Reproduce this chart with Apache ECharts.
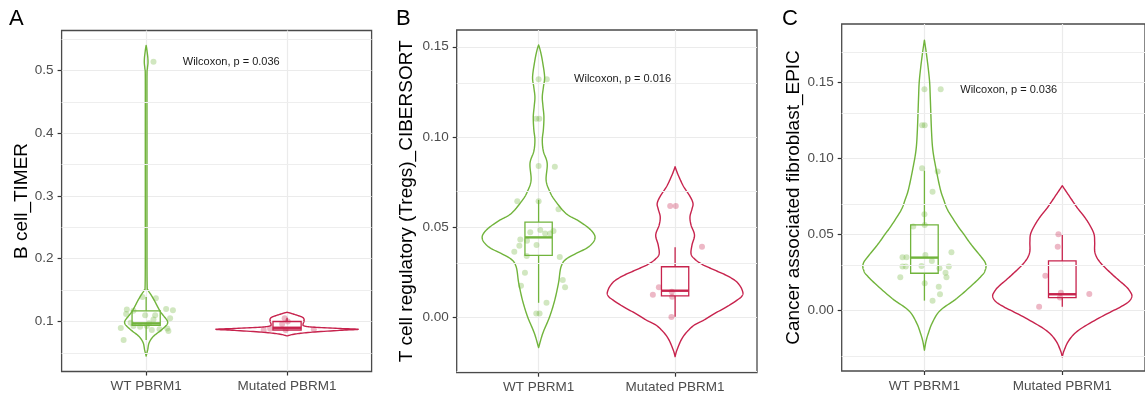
<!DOCTYPE html>
<html>
<head>
<meta charset="utf-8">
<script src="https://cdn.jsdelivr.net/npm/echarts@6/dist/echarts.min.js"></script>
<style>
  html, body { margin: 0; padding: 0; background: #fff; }
  #chart { width: 1145px; height: 396px; }
</style>
</head>
<body>
<div id="chart"></div>
<script>
// ---- shared labels ----
const categories = ['WT PBRM1', 'Mutated PBRM1'];
const panelLetters = ['A', 'B', 'C'];
const yTitles = ['B cell_TIMER', 'T cell regulatory (Tregs)_CIBERSORT', 'Cancer associated fibroblast_EPIC'];
const pLabels = ['Wilcoxon, p = 0.036', 'Wilcoxon, p = 0.016', 'Wilcoxon, p = 0.036'];

// ---- tick values per panel ----
const yTicksA = [0.1, 0.2, 0.3, 0.4, 0.5];
const yMinorA = [0.05, 0.15, 0.25, 0.35, 0.45, 0.55];
const yTicksB = [0.00, 0.05, 0.10, 0.15];
const yMinorB = [-0.025, 0.025, 0.075, 0.125];
const yTicksC = [0.00, 0.05, 0.10, 0.15];
const yMinorC = [-0.025, 0.025, 0.075, 0.125, 0.175];

// ---- violin outlines: [value, half width in category units] ----
const violinA_WT = [[0.045,0],[0.055,0.011],[0.066,0.021],[0.076,0.05],[0.085,0.10],[0.092,0.135],[0.097,0.152],[0.102,0.148],[0.110,0.12],[0.116,0.10],[0.125,0.078],[0.134,0.057],[0.142,0.036],[0.150,0.014],[0.160,0.007],[0.25,0.006],[0.40,0.006],[0.49,0.006],[0.503,0.009],[0.512,0.013],[0.52,0.012],[0.528,0.008],[0.535,0.004],[0.54,0]];
const violinA_Mut = [[0.077,0],[0.080,0.057],[0.083,0.18],[0.086,0.39],[0.0876,0.505],[0.089,0.36],[0.091,0.18],[0.093,0.12],[0.096,0.114],[0.100,0.12],[0.104,0.12],[0.107,0.107],[0.110,0.07],[0.113,0.028],[0.1147,0]];
const violinB_WT = [[-0.017,0],[-0.009,0.031],[0.000,0.08],[0.009,0.117],[0.019,0.146],[0.028,0.165],[0.0326,0.21],[0.038,0.347],[0.041,0.395],[0.0437,0.413],[0.0462,0.405],[0.0495,0.365],[0.0535,0.29],[0.0575,0.2],[0.065,0.117],[0.070,0.08],[0.076,0.055],[0.0853,0.063],[0.092,0.035],[0.0982,0.027],[0.104,0.035],[0.111,0.039],[0.117,0.032],[0.1222,0.027],[0.128,0.036],[0.1334,0.044],[0.1426,0.027],[0.148,0.012],[0.151,0]];
const violinB_Mut = [[-0.022,0],[-0.018,0.015],[-0.011,0.058],[-0.005,0.131],[-0.002,0.204],[0.002,0.291],[0.006,0.386],[0.010,0.466],[0.0115,0.488],[0.013,0.497],[0.0148,0.492],[0.017,0.478],[0.020,0.444],[0.023,0.379],[0.026,0.291],[0.029,0.204],[0.032,0.146],[0.035,0.117],[0.040,0.124],[0.0455,0.142],[0.051,0.117],[0.0556,0.109],[0.060,0.124],[0.0631,0.131],[0.067,0.109],[0.0723,0.063],[0.0777,0.029],[0.081,0.011],[0.0834,0]];
const violinC_WT = [[-0.026,0],[-0.02,0.012],[-0.015,0.028],[-0.008,0.057],[0.000,0.113],[0.008,0.234],[0.018,0.36],[0.024,0.425],[0.0265,0.44],[0.029,0.447],[0.0318,0.44],[0.035,0.415],[0.044,0.335],[0.051,0.28],[0.0553,0.245],[0.066,0.17],[0.073,0.14],[0.080,0.115],[0.093,0.085],[0.105,0.062],[0.117,0.052],[0.139,0.043],[0.150,0.038],[0.160,0.027],[0.170,0.013],[0.178,0]];
const violinC_Mut = [[-0.0303,0],[-0.026,0.014],[-0.0193,0.05],[-0.0127,0.121],[-0.004,0.284],[0.0026,0.426],[0.0062,0.485],[0.0097,0.505],[0.0128,0.49],[0.0161,0.46],[0.0224,0.38],[0.0312,0.28],[0.0378,0.238],[0.045,0.235],[0.0504,0.23],[0.0562,0.2],[0.0618,0.16],[0.0675,0.11],[0.0728,0.07],[0.0775,0.035],[0.0822,0]];

// ---- box statistics: [lower whisker, Q1, median, Q3, upper whisker] ----
const boxA_WT = [0.0705, 0.094, 0.097, 0.117, 0.139];
const boxA_Mut = [0.0855, 0.0864, 0.090, 0.100, 0.106];
const boxB_WT = [0.0079, 0.0342, 0.0442, 0.0527, 0.065];
const boxB_Mut = [0.0002, 0.0117, 0.0146, 0.0279, 0.0387];
const boxC_WT = [0.0066, 0.0246, 0.0349, 0.0564, 0.0921];
const boxC_Mut = [0.0026, 0.0086, 0.0108, 0.0327, 0.0498];

// ---- samples: [jitter offset from category, value] ----
const pointsA_WT = [[0.052,0.514],[-0.026,0.139],[0.069,0.137],[-0.137,0.119],[-0.09,0.117],[-0.142,0.112],[0.142,0.120],[0.19,0.118],[0.17,0.105],[-0.007,0.110],[0.064,0.110],[0.052,0.103],[-0.18,0.0896],[-0.09,0.093],[-0.043,0.0917],[0.005,0.093],[0.04,0.0865],[0.095,0.0876],[0.15,0.089],[0.158,0.085],[-0.16,0.0705],[-0.11,0.098],[0.02,0.097]];
const pointsA_Mut = [[-0.166,0.0865],[-0.12,0.0885],[-0.017,0.105],[0.005,0.1],[-0.035,0.096],[0.19,0.0876],[-0.01,0.0865]];
const pointsB_WT = [[0,0.132],[0.06,0.132],[-0.017,0.110],[0.005,0.110],[0,0.0838],[0.119,0.0834],[-0.156,0.0642],[0,0.0642],[0.146,0.0598],[0.109,0.0477],[0.012,0.0483],[0.048,0.0464],[0.085,0.0464],[-0.061,0.047],[-0.134,0.043],[-0.085,0.0423],[-0.015,0.040],[-0.141,0.0396],[-0.178,0.0362],[-0.087,0.0339],[0.155,0.0333],[-0.1,0.0246],[0.177,0.0205],[0.194,0.0165],[-0.129,0.0174],[0.058,0.0079],[-0.017,0.002],[0.007,0.002]];
const pointsB_Mut = [[-0.036,0.0616],[0.005,0.0616],[0.197,0.039],[-0.119,0.0165],[-0.163,0.0124],[-0.024,0.014],[-0.022,0.0113],[-0.027,0.0]];
const pointsC_WT = [[0,0.1457],[0.118,0.1457],[-0.017,0.122],[0.002,0.122],[-0.017,0.0937],[0.096,0.0915],[0.059,0.0783],[0,0.0634],[-0.081,0.0553],[0.002,0.0564],[-0.13,0.0351],[-0.159,0.0351],[0.007,0.0366],[0.196,0.0384],[-0.159,0.029],[-0.135,0.029],[-0.021,0.0294],[0.054,0.0327],[0.109,0.0279],[0.177,0.029],[-0.175,0.022],[0.153,0.025],[0.16,0.022],[0.002,0.018],[0.104,0.0158],[0.113,0.0108],[0.059,0.0066]];
const pointsC_Mut = [[-0.028,0.0503],[-0.033,0.0421],[-0.123,0.023],[-0.168,0.0026],[-0.017,0.0086],[0.196,0.011],[-0.01,0.0118]];

// ---- styling ----
const GREEN = '#71b43c';
const RED = '#c7234d';
const FONT = '"Liberation Sans", Arial, sans-serif';

const panels = [
  { grid: { left: 61.6, right: 773.4, top: 30.5, bottom: 24.5 }, yMin: 0.0203, yMax: 0.5637, ticks: yTicksA, minor: yMinorA, digits: 1, nameGap: 30.5,
    violins: [violinA_WT, violinA_Mut], boxes: [boxA_WT, boxA_Mut], points: [pointsA_WT, pointsA_Mut], pY: 0.514, letterX: 9 },
  { grid: { left: 456.7, right: 388, top: 30, bottom: 23.3 }, yMin: -0.0309, yMax: 0.1593, ticks: yTicksB, minor: yMinorB, digits: 2, nameGap: 40.5,
    violins: [violinB_WT, violinB_Mut], boxes: [boxB_WT, boxB_Mut], points: [pointsB_WT, pointsB_Mut], pY: 0.132, letterX: 396 },
  { grid: { left: 841.7, right: -5.7, top: 24, bottom: 25 }, yMin: -0.0397, yMax: 0.1886, ticks: yTicksC, minor: yMinorC, digits: 2, nameGap: 37,
    violins: [violinC_WT, violinC_Mut], boxes: [boxC_WT, boxC_Mut], points: [pointsC_WT, pointsC_Mut], pY: 0.1455, letterX: 782 }
];
const colors = [GREEN, RED];
const pointColors = ['rgba(113,180,60,0.4)', 'rgba(199,35,77,0.4)'];

// Catmull-Rom through pixel points, sampled for a smooth outline
function smoothSide(pts) {
  const out = [];
  const n = pts.length;
  for (let i = 0; i < n - 1; i++) {
    const p0 = pts[Math.max(i - 1, 0)], p1 = pts[i], p2 = pts[i + 1], p3 = pts[Math.min(i + 2, n - 1)];
    const steps = 10;
    for (let s = 0; s < steps; s++) {
      const t = s / steps, t2 = t * t, t3 = t2 * t;
      const f = k => 0.5 * ((2 * p1[k]) + (-p0[k] + p2[k]) * t + (2 * p0[k] - 5 * p1[k] + 4 * p2[k] - p3[k]) * t2 + (-p0[k] + 3 * p1[k] - 3 * p2[k] + p3[k]) * t3);
      out.push([f(0), f(1)]);
    }
  }
  out.push(pts[n - 1]);
  return out;
}

const grids = [], xAxes = [], yAxes = [], series = [], graphics = [];

panels.forEach((p, gi) => {
  grids.push(Object.assign({ show: true, borderColor: '#4a4a4a', borderWidth: 1.3, backgroundColor: 'transparent', containLabel: false }, p.grid));

  xAxes.push({
    type: 'value', gridIndex: gi, min: 0.4, max: 2.6,
    axisLine: { show: false, onZero: false },
    axisTick: { show: true, length: 4, customValues: [1, 2], lineStyle: { color: '#333', width: 1.2 } },
    axisLabel: { customValues: [1, 2], formatter: v => categories[Math.round(v) - 1], color: '#4d4d4d', fontSize: 13.5, fontFamily: FONT, margin: 8 },
    splitLine: { show: true, lineStyle: { color: '#ebebeb', width: 1.2 } }
  });

  yAxes.push({
    type: 'value', gridIndex: gi, min: p.yMin, max: p.yMax,
    name: yTitles[gi], nameLocation: 'middle', nameRotate: 90, nameGap: p.nameGap,
    nameTextStyle: { color: '#000', fontSize: 19, fontFamily: FONT },
    axisLine: { show: false, onZero: false },
    axisTick: { show: true, length: 4, customValues: p.ticks, lineStyle: { color: '#333', width: 1.2 } },
    axisLabel: { customValues: p.ticks, formatter: v => v.toFixed(p.digits), color: '#4d4d4d', fontSize: 13.5, fontFamily: FONT, margin: 8 },
    splitLine: { show: true, lineStyle: { color: '#ebebeb', width: 1.2 } }
  });

  // minor horizontal grid lines
  series.push({
    type: 'line', xAxisIndex: gi, yAxisIndex: gi, data: [], z: 0, silent: true,
    markLine: {
      silent: true, symbol: ['none', 'none'], label: { show: false }, animation: false,
      lineStyle: { color: '#eeeeee', width: 1, type: 'solid' },
      data: p.minor.map(v => ({ yAxis: v }))
    }
  });

  [0, 1].forEach(ci => {
    const cx = ci + 1;
    const outline = p.violins[ci];
    const box = p.boxes[ci];
    const color = colors[ci];

    // violin outline, mirrored about the category centre
    series.push({
      type: 'custom', xAxisIndex: gi, yAxisIndex: gi, z: 2, silent: true,
      data: [[cx, outline[0][0]]],
      renderItem: (params, api) => {
        const centre = api.coord([cx, 0])[0];
        const right = smoothSide(outline.map(([v, w]) => api.coord([cx + w, v])));
        const left = right.slice().reverse().map(([x, y]) => [2 * centre - x, y]);
        return {
          type: 'polygon',
          shape: { points: right.concat(left) },
          style: { fill: 'none', stroke: color, lineWidth: 1.4, lineJoin: 'round' }
        };
      }
    });

    // box and whiskers
    series.push({
      type: 'custom', xAxisIndex: gi, yAxisIndex: gi, z: 3, silent: true,
      data: [[cx, box[2]]],
      renderItem: (params, api) => {
        const [lo, q1, med, q3, hi] = box;
        const hw = 0.1;
        const tl = api.coord([cx - hw, q3]);
        const br = api.coord([cx + hw, q1]);
        const c = (x, y) => api.coord([x, y]);
        const line = (a, b, w) => ({ type: 'line', shape: { x1: a[0], y1: a[1], x2: b[0], y2: b[1] }, style: { stroke: color, lineWidth: w } });
        return {
          type: 'group',
          children: [
            line(c(cx, q3), c(cx, hi), 1.3),
            line(c(cx, q1), c(cx, lo), 1.3),
            { type: 'rect', shape: { x: tl[0], y: tl[1], width: br[0] - tl[0], height: br[1] - tl[1] }, style: { fill: 'none', stroke: color, lineWidth: 1.3 } },
            line(c(cx - hw, med), c(cx + hw, med), 2.4)
          ]
        };
      }
    });

    // jittered samples
    series.push({
      type: 'scatter', xAxisIndex: gi, yAxisIndex: gi, z: 4, silent: true,
      symbolSize: 6,
      itemStyle: { color: pointColors[ci] },
      data: p.points[ci].map(([off, v]) => [cx + off, v])
    });
  });

  // test annotation
  series.push({
    type: 'custom', xAxisIndex: gi, yAxisIndex: gi, z: 5, silent: true,
    data: [[1.26, p.pY]],
    renderItem: (params, api) => {
      const pt = api.coord([api.value(0), api.value(1)]);
      return {
        type: 'text', x: pt[0], y: pt[1],
        style: { text: pLabels[gi], fill: '#1a1a1a', font: '11px ' + FONT, align: 'left', verticalAlign: 'middle' }
      };
    }
  });

  graphics.push({
    type: 'text', left: p.letterX, top: 8,
    style: { text: panelLetters[gi], fill: '#000', font: '22px ' + FONT }
  });
});

const chart = echarts.init(document.getElementById('chart'), null, { renderer: 'canvas' });
chart.setOption({
  animation: false,
  backgroundColor: '#fff',
  textStyle: { fontFamily: FONT },
  grid: grids,
  xAxis: xAxes,
  yAxis: yAxes,
  series: series,
  graphic: graphics
});
</script>
</body>
</html>
